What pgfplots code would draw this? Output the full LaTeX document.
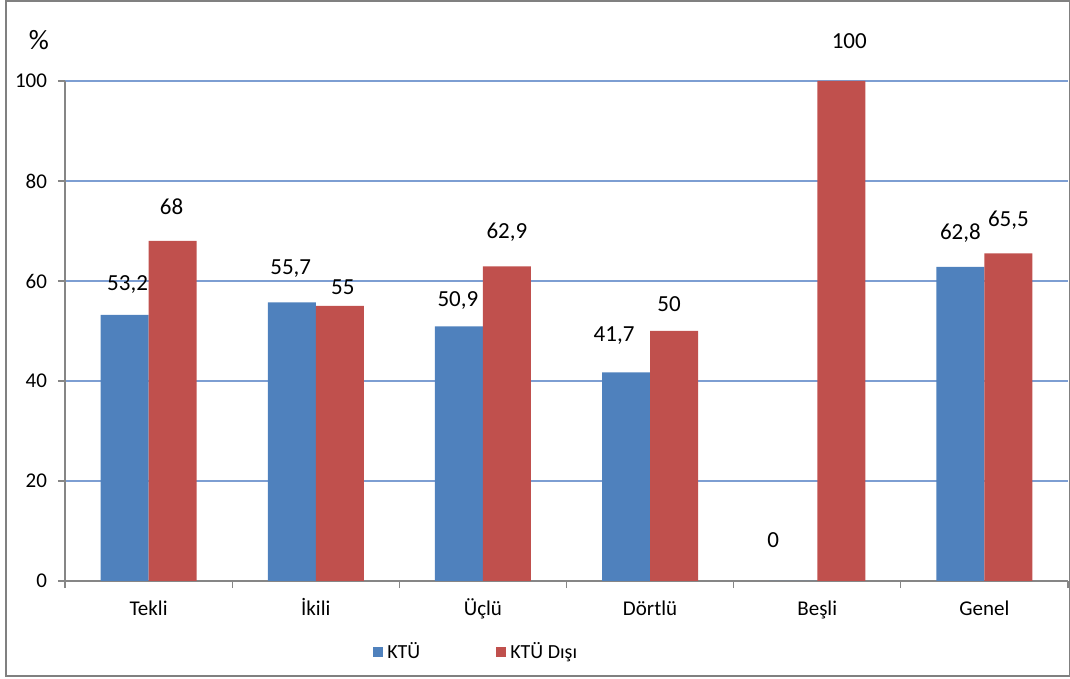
\documentclass[border=0pt]{standalone}
\usepackage{fontspec}
\setmainfont{Carlito}
\usepackage{pgfplots}
\usepackage{pgfplotstable}
\pgfplotsset{compat=1.18}

\definecolor{ktublue}{RGB}{79,129,189}
\definecolor{ktured}{RGB}{192,80,77}
\definecolor{gridblue}{RGB}{125,158,210}
\definecolor{axgray}{RGB}{134,134,134}
\definecolor{framegray}{RGB}{128,128,128}

% columns: category index, value, label x/y offset (pt)
\pgfplotstableread{
x y    dx   dy
0 53.2 1.5  15
1 55.7 -0.5 17
2 50.9 -0.5 13
3 41.7 -6   18.5
4 0    -10  20.5
5 62.8 0    17
}\ktu

\pgfplotstableread{
x y    dx   dy
0 68   -0.5 17
1 55   1.5  9.5
2 62.9 0    17
3 50   -2.5 13.5
4 100  4    20
5 65.5 0    16.5
}\ktudisi

\begin{document}
\begin{tikzpicture}
\useasboundingbox (-32.5pt,-49pt) rectangle (502.5pt,290.5pt);
\draw[framegray, line width=1pt] (-29.5pt,-47.5pt) rectangle (502.25pt,290pt);
\node[font=\fontsize{14}{16}\selectfont] at (-13pt,270.5pt) {\%};
\begin{axis}[
  at={(0pt,0pt)}, anchor=south west,
  scale only axis, width=501.5pt, height=250pt,
  xmin=-0.5, xmax=5.5, ymin=0, ymax=100,
  axis lines*=left,
  axis line style={-, draw=axgray, line width=0.6pt},
  ybar=0pt, bar width=24pt,
  ytick={0,20,...,100},
  ymajorgrids,
  major grid style={gridblue, line width=0.6pt},
  xtick={-0.5,0.5,...,5.5},
  x tick label as interval,
  xticklabels={Tekli,İkili,Üçlü,Dörtlü,Beşli,Genel},
  tick align=outside,
  major tick length=3.5pt,
  tick style={axgray, line width=0.6pt},
  yticklabel style={font=\fontsize{10.5}{12}\selectfont, xshift=-2pt},
  xticklabel style={font=\fontsize{10.5}{12}\selectfont,
    text height=7pt, text depth=2pt, yshift=-3pt},
  /pgf/number format/assume math mode=true,
  /pgf/number format/use comma,
  nodes near coords,
  every node near coord/.append style={anchor=center, text=black,
    font=\fontsize{11.5}{13}\selectfont},
  legend columns=2,
  legend style={at={(0.411,-0.142)}, anchor=center, draw=none,
    font=\fontsize{10}{12}\selectfont,
    /tikz/every even column/.append style={column sep=36pt}},
  legend image code/.code={
    \fill[#1,draw=none] (0pt,-2.5pt) rectangle (5pt,2.5pt);},
]
\addplot[fill=ktublue, draw=none,
  visualization depends on={\thisrow{dx}\as\ldx},
  visualization depends on={\thisrow{dy}\as\ldy},
  every node near coord/.append style={xshift=\ldx pt, yshift=\ldy pt}]
  table[x=x,y=y]{\ktu};
\addlegendentry{KTÜ}
\addplot[fill=ktured, draw=none,
  visualization depends on={\thisrow{dx}\as\ldx},
  visualization depends on={\thisrow{dy}\as\ldy},
  every node near coord/.append style={xshift=\ldx pt, yshift=\ldy pt}]
  table[x=x,y=y]{\ktudisi};
\addlegendentry{KTÜ Dışı}
\end{axis}
\end{tikzpicture}
\end{document}
